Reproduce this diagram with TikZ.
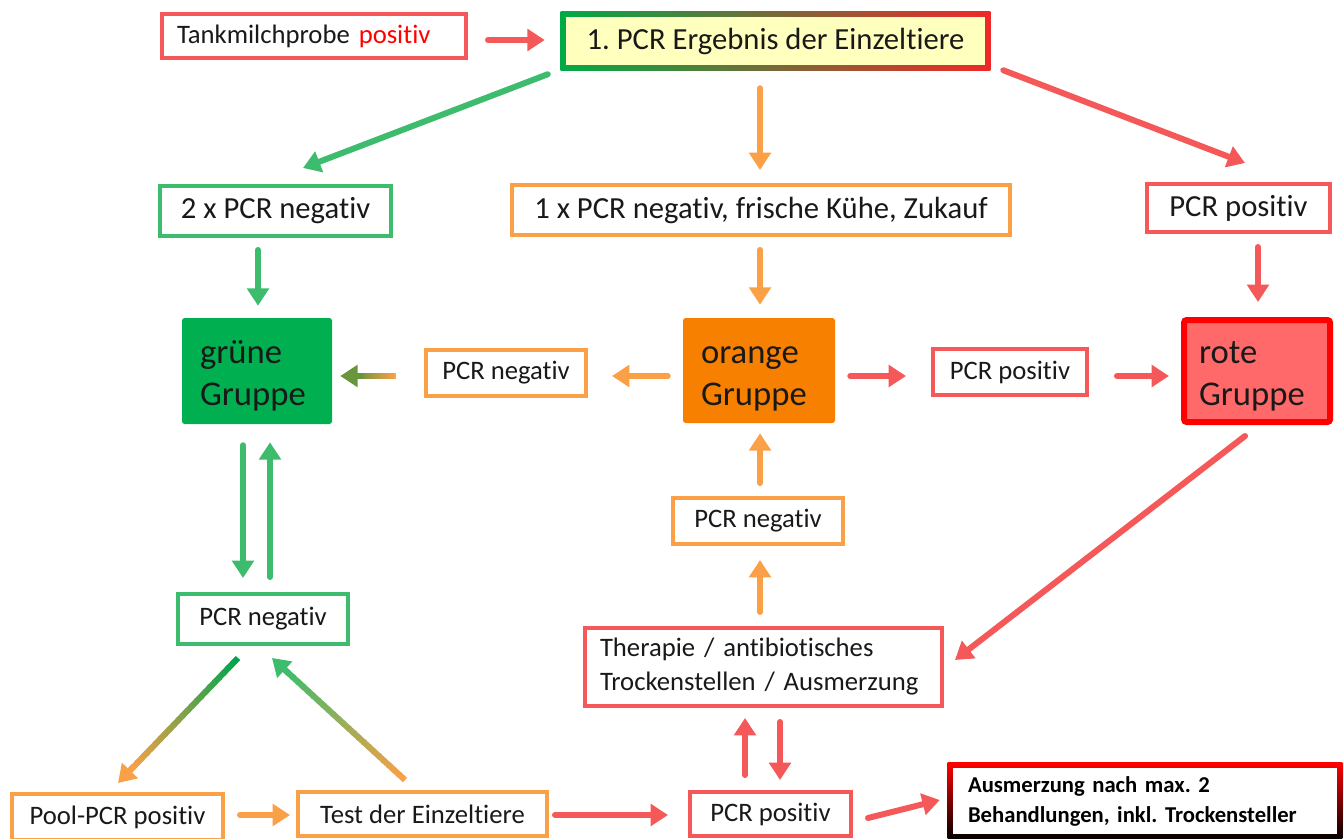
\documentclass[tikz,border=0pt]{standalone}
\usepackage{fontspec}
\setmainfont{Carlito}[Ligatures={NoCommon,NoContextual},RawFeature={-liga;-clig}]
\usetikzlibrary{arrows.meta,calc,backgrounds}
\definecolor{cred}{RGB}{245,88,88}
\definecolor{cgreen}{RGB}{60,188,108}
\definecolor{dgreen}{RGB}{0,165,75}
\definecolor{corange}{RGB}{250,160,70}
\definecolor{colive}{RGB}{105,150,60}
\definecolor{ggreen}{RGB}{0,176,80}
\definecolor{gorange}{RGB}{247,128,0}
\definecolor{gred}{RGB}{255,105,105}
\definecolor{hyellow}{RGB}{255,255,190}
\definecolor{hgreen}{RGB}{0,170,70}
\definecolor{horange}{RGB}{255,150,0}
\definecolor{hred}{RGB}{240,40,40}
\definecolor{txt}{RGB}{25,25,25}
\newcommand\gradarr[4]{%
  \coordinate (#2x) at ($(#2)!12pt!(#1)$);
  \foreach \i in {0,...,23}{%
    \pgfmathsetmacro\ta{\i/24}%
    \pgfmathsetmacro\tb{(\i+1.3)/24}%
    \pgfmathtruncatemacro\pp{100-\i*100/23}%
    \draw[line width=4.5pt, #3!\pp!#4] ($(#1)!\ta!(#2x)$) -- ($(#1)!\tb!(#2x)$);
  }
  \draw[arr, #4] ($(#2)!16pt!(#1)$) -- (#2);
}
\newcommand\grpstrut{\rule{0pt}{25pt}}
\frenchspacing
\begin{document}
\begin{tikzpicture}[x=0.75pt,y=-0.75pt,
  wh/.style 2 args={minimum width=#1*0.75pt, minimum height=#2*0.75pt},
  bx/.style={draw, line width=3pt, fill=white, inner sep=0pt, text=txt,
    font=\fontsize{20}{24}\selectfont},
  big/.style={font=\fontsize{23}{28}\selectfont},
  grp/.style={inner sep=0pt, rounded corners=2pt, align=left, text=txt,
    font=\fontsize{26}{31.5}\selectfont},
  arr/.style={line width=4.5pt, line cap=round, -{Triangle[length=13pt,width=16pt]}},
]
\useasboundingbox (0,0) rectangle (1344,838);

% nodes
\node[bx, draw=cred, wh={304}{44}, align=left, text width=205.5pt] (tank) at (314,36) {\mbox{Tankmilchprobe \textcolor{red}{positiv}}};
\node[wh={425}{54}, big, inner sep=0pt, text=txt] (head) at (775.5,41) {1. PCR Ergebnis der Einzeltiere};
\node[bx, big, draw=cgreen, wh={231}{50}] (neg2) at (275.5,211) {2 x PCR negativ};
\node[bx, big, draw=corange, wh={498}{50}] (neg1) at (761,210) {1 x PCR negativ, frische Kühe, Zukauf};
\node[bx, big, draw=cred, wh={183}{48}] (posTR) at (1238.5,208) {PCR positiv};
\node[grp, fill=ggreen, wh={150}{106}, text width=85.5pt] (gruen) at (257,371) {\grpstrut grüne\\Gruppe};
\node[bx, draw=corange, wh={160}{46}] (negO) at (506,373) {PCR negativ};
\node[grp, fill=gorange, wh={152}{105}, text width=87pt] (orangeG) at (759,370.5) {\grpstrut orange\\Gruppe};
\node[bx, draw=cred, wh={154}{46}] (posM) at (1010,372) {PCR positiv};
\node[grp, fill=gred, draw=red, line width=4.5pt, wh={146}{102}, text width=87pt] (rote) at (1257,371) {\grpstrut rote\\Gruppe};
\node[bx, draw=corange, wh={170}{46}] (negO2) at (758,521) {PCR negativ};
\node[bx, draw=cred, wh={357}{78}, align=left, text width=245.25pt,
  font=\fontsize{20}{25.5}\selectfont] (ther) at (763.5,667)
  {\mbox{Therapie / antibiotisches}\\\mbox{Trockenstellen / Ausmerzung}};
\node[bx, draw=cgreen, wh={170}{50}] (negG) at (263,619) {PCR negativ};
\node[bx, draw=corange, wh={211}{46}] (pool) at (117.5,817) {Pool-PCR positiv};
\node[bx, draw=corange, wh={249}{44}] (test) at (422.5,814) {Test der Einzeltiere};
\node[bx, draw=cred, wh={161}{44}] (posB) at (770.5,814) {PCR positiv};
\node[wh={390}{72}, inner sep=0pt, align=left, text width=265.5pt, text=black,
  font=\fontsize{17}{22.5}\selectfont\bfseries] (ausm) at (1145,801)
  {\mbox{Ausmerzung nach max. 2}\\\mbox{Behandlungen, inkl. Trockensteller}};

% background decorations
\begin{scope}[on background layer]
  \fill[white] (0,0) rectangle (1344,838);
  \shade[left color=hgreen, middle color=horange, right color=hred]
    ($(head.north west)+(-2,-2)$) rectangle ($(head.south east)+(2,2)$);
  \fill[hyellow] ($(head.north west)+(3,3)$) rectangle ($(head.south east)+(-3,-3)$);
  \shade[top color=red, bottom color=black]
    ($(ausm.north west)+(-2,-2)$) rectangle ($(ausm.south east)+(2,2)$);
  \fill[white] ($(ausm.north west)+(3,3)$) rectangle ($(ausm.south east)+(-3,-3)$);
\end{scope}

% connectors
\draw[arr,cred] ($(tank.east)+(20,4)$) -- ($(head.west)+(-18,-1)$);
\draw[arr,cgreen] ($(head.south west)+(-15,6)$) -- ($(neg2.north)+(27.5,-16)$);
\draw[arr,corange] ($(head.south)+(-15.5,20)$) -- ($(neg1.north)+(-1,-13)$);
\draw[arr,cred] ($(head.south east)+(15,2)$) -- ($(posTR.north)+(6.5,-19)$);
\draw[arr,cgreen] ($(neg2.south)+(-17.5,12)$) -- ($(gruen.north)+(1,-12)$);
\draw[arr,corange] ($(neg1.south)+(-1,13)$) -- ($(orangeG.north)+(1,-13)$);
\draw[arr,cred] ($(posTR.south)+(19.5,13)$) -- ($(rote.north)+(1,-15)$);
\draw[arr,corange] ($(orangeG.west)+(-15,5.5)$) -- ($(negO.east)+(24,3)$);
\coordinate (g9s) at ($(negO.west)+(-28,3)$);
\coordinate (g9e) at ($(gruen.east)+(8,5)$);
\gradarr{g9s}{g9e}{corange}{colive}
\draw[arr,cred] ($(orangeG.east)+(15,5.5)$) -- ($(posM.west)+(-25,4)$);
\draw[arr,cred] ($(posM.east)+(28,4)$) -- ($(rote.west)+(-12,5)$);
\draw[arr,cred] ($(rote.south)+(-12,11)$) -- ($(ther.east)+(11,-7)$);
\draw[arr,corange] ($(ther.north)+(-3.5,-14)$) -- ($(negO2.south)+(2,14)$);
\draw[arr,corange] ($(negO2.north)+(2,-13)$) -- ($(orangeG.south)+(1,10)$);
\draw[arr,cgreen] ($(gruen.south)+(-14,21)$) -- ($(negG.north)+(-20,-14)$);
\draw[arr,cgreen] ($(negG.north)+(7,-15)$) -- ($(gruen.south)+(13,18)$);
\coordinate (g17s) at ($(negG.south)+(-25,12)$);
\coordinate (g17e) at ($(pool.north)+(0.5,-9)$);
\gradarr{g17s}{g17e}{dgreen}{corange}
\coordinate (g18s) at ($(test.north)+(-17.5,-10)$);
\coordinate (g18e) at ($(negG.south)+(9,12)$);
\gradarr{g18s}{g18e}{corange}{cgreen}
\draw[arr,corange] ($(pool.east)+(15,-2)$) -- ($(test.west)+(-6,1)$);
\draw[arr,cred] ($(test.east)+(6,1)$) -- ($(posB.west)+(-20,1)$);
\draw[arr,cred] ($(posB.north)+(-25.5,-15)$) -- ($(ther.south)+(-18.5,10)$);
\draw[arr,cred] ($(ther.south)+(16.5,14)$) -- ($(posB.north)+(9.5,-10)$);
\draw[arr,cred] ($(posB.east)+(15,4)$) -- ($(ausm.west)+(-10,-1)$);
\end{tikzpicture}
\end{document}
